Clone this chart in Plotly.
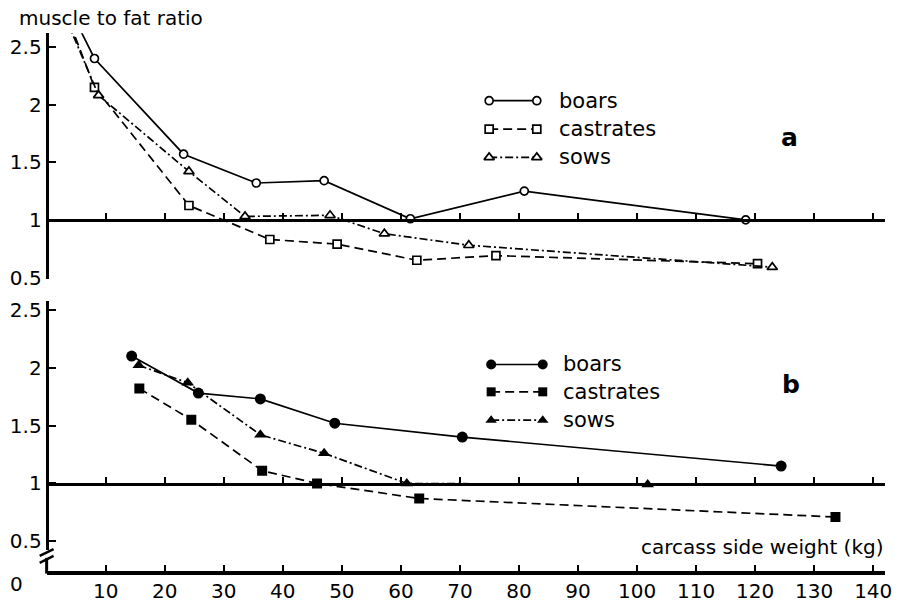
import plotly.graph_objects as go

# ---------------- data ----------------
x_ticks = [10, 20, 30, 40, 50, 60, 70, 80, 90, 100, 110, 120, 130, 140]
y_ticks = [0.5, 1, 1.5, 2, 2.5]
y_ticktext = ["0.5", "1", "1.5", "2", "2.5"]
series_names = ["boars", "castrates", "sows"]

# panel a
boars_a_x = [4.5, 8.1, 23.2, 35.5, 47.0, 61.6, 80.9, 118.4]
boars_a_y = [2.77, 2.40, 1.57, 1.32, 1.34, 1.01, 1.25, 1.00]
castrates_a_x = [4.0, 8.1, 24.1, 37.8, 49.2, 62.7, 76.1, 120.4]
castrates_a_y = [2.70, 2.15, 1.125, 0.83, 0.79, 0.65, 0.69, 0.62]
sows_a_x = [3.5, 8.8, 24.1, 33.6, 48.0, 57.2, 71.5, 122.9]
sows_a_y = [2.72, 2.08, 1.42, 1.03, 1.04, 0.88, 0.78, 0.59]

# panel b
boars_b_x = [14.4, 25.7, 36.2, 48.8, 70.4, 124.4]
boars_b_y = [2.10, 1.78, 1.73, 1.52, 1.40, 1.15]
castrates_b_x = [15.7, 24.5, 36.5, 45.8, 63.1, 133.6]
castrates_b_y = [1.82, 1.55, 1.11, 1.00, 0.87, 0.71]
sows_b_x = [15.6, 23.9, 36.2, 47.0, 61.0, 101.8]
sows_b_y = [2.02, 1.87, 1.42, 1.26, 1.00, 0.99]

# ---------------- layout constants (pixels) ----------------
W, H = 899, 608
FONT = "DejaVu Sans"
X0_PX, X1_PX = 47, 892
X_RANGE = [0, 142]


def fx(px):
    return px / W


def fy(py):
    return 1 - py / H


dashes = {"boars": "solid", "castrates": "9px,5px", "sows": "8px,3px,2px,3px"}
open_sym = {"boars": "circle", "castrates": "square", "sows": "triangle-up"}
open_size = {"boars": 8, "castrates": 8, "sows": 9}
fill_size = {"boars": 11, "castrates": 10, "sows": 11}

fig = go.Figure()

panel_a = {"boars": (boars_a_x, boars_a_y), "castrates": (castrates_a_x, castrates_a_y),
           "sows": (sows_a_x, sows_a_y)}
panel_b = {"boars": (boars_b_x, boars_b_y), "castrates": (castrates_b_x, castrates_b_y),
           "sows": (sows_b_x, sows_b_y)}

for name in series_names:
    xs, ys = panel_a[name]
    fig.add_trace(go.Scatter(
        x=xs, y=ys, mode="lines+markers", xaxis="x", yaxis="y", showlegend=False,
        line=dict(color="black", width=1.7, dash=dashes[name]),
        marker=dict(symbol=open_sym[name], size=open_size[name], color="white",
                    line=dict(color="black", width=1.7)),
    ))
for name in series_names:
    xs, ys = panel_b[name]
    fig.add_trace(go.Scatter(
        x=xs, y=ys, mode="lines+markers", xaxis="x3", yaxis="y2", showlegend=False,
        line=dict(color="black", width=1.7, dash=dashes[name]),
        marker=dict(symbol=open_sym[name], size=fill_size[name], color="black",
                    line=dict(color="black", width=0)),
    ))
# dummy trace to make the y=1 axis of panel b exist
fig.add_trace(go.Scatter(x=[-100], y=[-100], xaxis="x2", yaxis="y2", mode="markers",
                         showlegend=False, marker=dict(opacity=0)))

# ---------------- custom legends (pixel overlay axes) ----------------
legend_a = dict(x_left=493, x_right=541, text_x=561, rows=[100, 129, 158], filled=False)
legend_b = dict(x_left=495, x_right=547, text_x=565, rows=[370, 398, 427], filled=True)
annotations = []
for leg in (legend_a, legend_b):
    for name, ry in zip(series_names, leg["rows"]):
        fig.add_trace(go.Scatter(
            x=[leg["x_left"], leg["x_right"]], y=[ry, ry], mode="lines+markers",
            xaxis="x4", yaxis="y3", showlegend=False,
            line=dict(color="black", width=1.7, dash=dashes[name]),
            marker=dict(symbol=open_sym[name],
                        size=(fill_size[name] - 1) if leg["filled"] else open_size[name],
                        color="black" if leg["filled"] else "white",
                        line=dict(color="black", width=0 if leg["filled"] else 1.7)),
        ))
        annotations.append(dict(x=fx(leg["text_x"]), y=fy(ry), xref="paper", yref="paper",
                                text=name, showarrow=False, xanchor="left", yanchor="middle",
                                font=dict(family=FONT, size=21, color="black")))

annotations += [
    dict(x=fx(806), y=fy(121), xref="paper", yref="paper", text="<b>a</b>", showarrow=False,
         font=dict(family=FONT, size=25, color="black")),
    dict(x=fx(808), y=fy(391), xref="paper", yref="paper", text="<b>b</b>", showarrow=False,
         font=dict(family=FONT, size=25, color="black")),
    dict(x=fx(17), y=fy(15), xref="paper", yref="paper", text="muscle to fat ratio",
         showarrow=False, xanchor="left", yanchor="middle",
         font=dict(family=FONT, size=20, color="black")),
    dict(x=fx(893), y=fy(557), xref="paper", yref="paper", text="carcass side weight (kg)",
         showarrow=False, xanchor="right", yanchor="middle",
         font=dict(family=FONT, size=20, color="black")),
    dict(x=fx(17), y=fy(595), xref="paper", yref="paper", text="0",
         showarrow=False, xanchor="center", yanchor="middle",
         font=dict(family=FONT, size=20, color="black")),
]

# axis-break marks and stub of the lower y axis
shapes = [
    dict(type="line", xref="paper", yref="paper", x0=fx(X0_PX), x1=fx(X0_PX),
         y0=fy(568), y1=fy(584), line=dict(color="black", width=3)),
    dict(type="line", xref="paper", yref="paper", x0=fx(40), x1=fx(54),
         y0=fy(566), y1=fy(559), line=dict(color="black", width=2.5)),
    dict(type="line", xref="paper", yref="paper", x0=fx(40), x1=fx(54),
         y0=fy(573), y1=fy(566), line=dict(color="black", width=2.5)),
]

x_domain = [fx(X0_PX), fx(X1_PX)]
common_x = dict(domain=x_domain, range=X_RANGE, tickvals=x_ticks, showgrid=False,
                zeroline=False, showline=True, linecolor="black",
                tickcolor="black", tickwidth=2, ticklen=6)
common_y = dict(tickvals=y_ticks, ticktext=y_ticktext, showgrid=False, zeroline=False,
                showline=True, linecolor="black", linewidth=3, ticks="inside",
                tickcolor="black", tickwidth=2, ticklen=7, anchor="free", position=fx(X0_PX),
                tickfont=dict(family=FONT, size=20, color="black"))

fig.update_layout(
    width=W, height=H, margin=dict(l=0, r=0, t=0, b=0),
    paper_bgcolor="white", plot_bgcolor="rgba(0,0,0,0)",
    showlegend=False,
    xaxis=dict(**common_x, linewidth=2.5, anchor="free", position=fy(222), side="top",
               ticks="outside", showticklabels=False),
    yaxis=dict(**common_y, domain=[fy(282), fy(31)], range=[0.4915, 2.6186]),
    xaxis2=dict(**common_x, linewidth=2.5, anchor="free", position=fy(492), side="top",
                ticks="outside", showticklabels=False),
    xaxis3=dict(**common_x, linewidth=3.5, anchor="free", position=fy(583), side="bottom",
                ticks="inside", showticklabels=True, ticklabeloverflow="allow",
                tickfont=dict(family=FONT, size=20, color="black")),
    yaxis2=dict(**common_y, domain=[fy(560), fy(305)], range=[0.4242, 2.5758]),
    xaxis4=dict(domain=[0, 1], range=[0, W], visible=False, anchor="y3"),
    yaxis3=dict(domain=[0, 1], range=[H, 0], visible=False, anchor="x4"),
    annotations=annotations,
    shapes=shapes,
)

fig.write_html("out.html")
